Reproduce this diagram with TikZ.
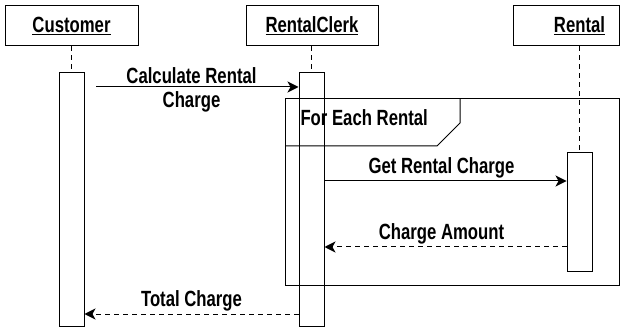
\documentclass[tikz,border=0pt]{standalone}
\usepackage{fontspec}
\setmainfont[FakeStretch=0.76]{Liberation Sans}
\usetikzlibrary{arrows.meta}
\begin{document}
\begin{tikzpicture}[x=1pt, y=-1pt, line width=1pt,
    every node/.style={font=\fontsize{22}{24}\selectfont\bfseries},
    actor/.style={draw, minimum height=40pt, inner sep=0pt},
    activation/.style={draw, minimum width=25pt, inner sep=0pt},
    life/.style={dash pattern=on 5pt off 4pt},
    msg/.style={-{Stealth[length=11pt,width=11pt,inset=3pt]}},
    reply/.style={msg, dash pattern=on 5pt off 4pt},
    msglabel/.style={midway, above=2pt, inner sep=0pt}]
  \useasboundingbox (0,0) rectangle (639,328);

  % objects
  \node[actor, minimum width=133pt] (customer) at (71.5,26) {\underline{Customer}};
  \node[actor, minimum width=132pt] (clerk) at (312,26) {\underline{RentalClerk}};
  \node[actor, minimum width=106pt] (rental) at (566,26) {};
  \node[inner sep=0pt] (rentalname) at (579.5,26) {\underline{Rental}};

  % activations
  \node[activation, minimum height=253pt] (custbar) at (71.5,199.5) {};
  \node[activation, minimum height=253pt] (clerkbar) at (311.5,199.5) {};
  \node[activation, minimum height=119pt] (rentalbar) at (579.5,212.5) {};

  % lifelines
  \draw[life] (custbar.north |- customer.south) -- (custbar.north);
  \draw[life] (clerkbar.north |- clerk.south) -- (clerkbar.north);
  \draw[life] (rentalbar.north |- rental.south) -- (rentalbar.north);

  % loop frame
  \draw (285,99) rectangle (619,286);
  \draw (285,146) -- (437,146) -- (460,123) -- (460,99);
  \node[anchor=base west, inner sep=0pt] (looplabel) at (300,126) {For Each Rental};

  % messages
  \coordinate (callstart) at (96,87);
  \draw[msg] (callstart) -- (clerkbar.west |- callstart);
  \node[align=center, inner sep=0pt] (calllabel) at (191.5,89.5) {Calculate Rental\\Charge};
  \draw[msg] (clerkbar.east |- 0,181) -- (rentalbar.west |- 0,181)
    node[msglabel, xshift=-4pt] (getlabel) {Get Rental Charge};
  \draw[reply] (rentalbar.west |- 0,247) -- (clerkbar.east |- 0,247)
    node[msglabel, xshift=-4pt] (amountlabel) {Charge Amount};
  \draw[reply] (clerkbar.west |- 0,314) -- (custbar.east |- 0,314)
    node[msglabel] (totallabel) {Total Charge};
\end{tikzpicture}
\end{document}
